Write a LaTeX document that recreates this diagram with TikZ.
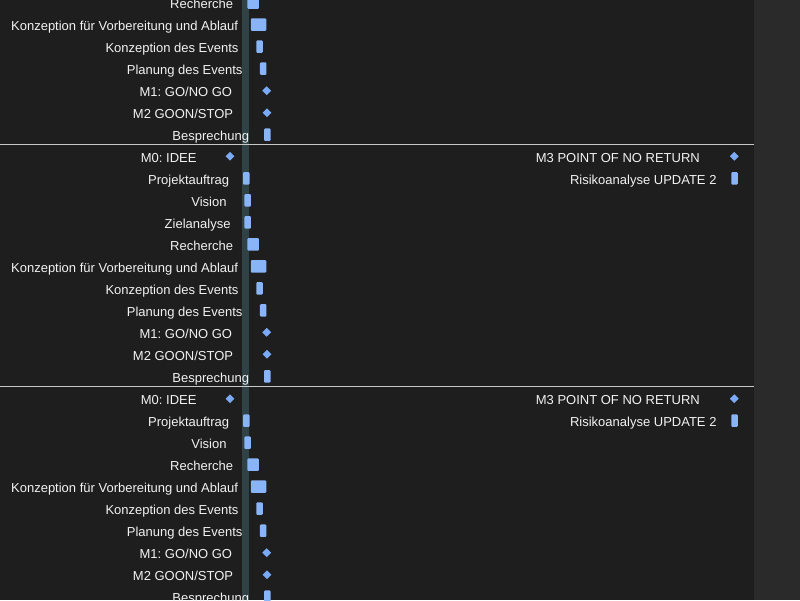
\documentclass[tikz,border=0pt]{standalone}
\usepackage{fontspec}
\setmainfont{Liberation Sans}
\usetikzlibrary{shapes.geometric}
\definecolor{bgdark}{HTML}{1E1E1E}
\definecolor{stripgray}{HTML}{2A2A2A}
\definecolor{todayslate}{HTML}{2F4346}
\definecolor{sepgray}{HTML}{C8C8C8}
\definecolor{labelwhite}{HTML}{F2F2F2}
\definecolor{barblue}{HTML}{8AB4F8}
\definecolor{mileblue}{HTML}{7AAAF5}
\frenchspacing
\begin{document}
\begin{tikzpicture}[x=1pt,y=-1pt]
        \tikzstyle{taskbar}=[rectangle, fill=barblue, rounded corners=1pt,
            minimum height=12.5pt, inner sep=0pt]
        \tikzstyle{milestone}=[diamond, fill=mileblue,
            minimum size=9pt, inner sep=0pt]
        \tikzstyle{tasklabel}=[anchor=base east, inner sep=0pt, text=labelwhite,
            font=\fontsize{13}{15}\selectfont]
        \tikzstyle{sepline}=[draw=sepgray, line width=1pt]

        \useasboundingbox (0,0) rectangle (800,600);
        \clip (0,0) rectangle (800,600);
        \fill[bgdark] (0,0) rectangle (800,600);
        \fill[stripgray] (754,0) rectangle (800,600);
        \fill[todayslate] (242.3,0) rectangle (249,600);
        \draw[sepline] (0,144.5) -- (754,144.5);
        \draw[sepline] (0,386) -- (754,386);

        % first block (cut at the top)
        \node[taskbar, minimum width=11.5pt] (rech1) at (253.2, 2.7) {};
        \node[taskbar, minimum width=15.5pt] (kvor1) at (258.5, 24.7) {};
        \node[taskbar, minimum width=6.5pt] (kev1) at (259.5, 46.7) {};
        \node[taskbar, minimum width=6.5pt] (plan1) at (263.2, 68.7) {};
        \node[milestone] (m11) at (266.7, 90.7) {};
        \node[milestone] (m21) at (267, 112.7) {};
        \node[taskbar, minimum width=6.5pt] (bes1) at (267.3, 134.7) {};

        \node[tasklabel] (rech1l) at (233.3, 8.4) {Recherche};
        \node[tasklabel] (kvor1l) at (238.3, 30.4) {Konzeption für Vorbereitung und Ablauf};
        \node[tasklabel] (kev1l) at (238.7, 52.4) {Konzeption des Events};
        \node[tasklabel] (plan1l) at (242.7, 74.4) {Planung des Events};
        \node[tasklabel] (m11l) at (232.3, 96.4) {M1: GO/NO GO};
        \node[tasklabel] (m21l) at (233.3, 118.4) {M2 GOON/STOP};
        \node[tasklabel] (bes1l) at (249.3, 140.4) {Besprechung};

        % second block
        \node[milestone] (m02) at (230, 156.3) {};
        \node[milestone] (m32) at (734.3, 156.3) {};
        \node[taskbar, minimum width=6.5pt] (proj2) at (246.3, 178.3) {};
        \node[taskbar, minimum width=6.5pt] (risk2) at (734.5, 178.3) {};
        \node[taskbar, minimum width=6.5pt] (vis2) at (247.7, 200.3) {};
        \node[taskbar, minimum width=6.5pt] (ziel2) at (247.7, 222.3) {};
        \node[taskbar, minimum width=11.5pt] (rech2) at (253.2, 244.3) {};
        \node[taskbar, minimum width=15.5pt] (kvor2) at (258.5, 266.3) {};
        \node[taskbar, minimum width=6.5pt] (kev2) at (259.5, 288.3) {};
        \node[taskbar, minimum width=6.5pt] (plan2) at (263.2, 310.3) {};
        \node[milestone] (m12) at (266.7, 332.3) {};
        \node[milestone] (m22) at (267, 354.3) {};
        \node[taskbar, minimum width=6.5pt] (bes2) at (267.3, 376.3) {};

        \node[tasklabel] (m02l) at (196.7, 162) {M0: IDEE};
        \node[tasklabel] (m32l) at (700, 162) {M3 POINT OF NO RETURN};
        \node[tasklabel] (proj2l) at (229.3, 184) {Projektauftrag};
        \node[tasklabel] (risk2l) at (716.7, 184) {Risikoanalyse UPDATE 2};
        \node[tasklabel] (vis2l) at (226.7, 206) {Vision};
        \node[tasklabel] (ziel2l) at (230.7, 228) {Zielanalyse};
        \node[tasklabel] (rech2l) at (233.3, 250) {Recherche};
        \node[tasklabel] (kvor2l) at (238.3, 272) {Konzeption für Vorbereitung und Ablauf};
        \node[tasklabel] (kev2l) at (238.7, 294) {Konzeption des Events};
        \node[tasklabel] (plan2l) at (242.7, 316) {Planung des Events};
        \node[tasklabel] (m12l) at (232.3, 338) {M1: GO/NO GO};
        \node[tasklabel] (m22l) at (233.3, 360) {M2 GOON/STOP};
        \node[tasklabel] (bes2l) at (249.3, 382) {Besprechung};

        % third block (cut at the bottom)
        \node[milestone] (m03) at (230, 398.7) {};
        \node[milestone] (m33) at (734.3, 398.7) {};
        \node[taskbar, minimum width=6.5pt] (proj3) at (246.3, 420.7) {};
        \node[taskbar, minimum width=6.5pt] (risk3) at (734.5, 420.7) {};
        \node[taskbar, minimum width=6.5pt] (vis3) at (247.7, 442.7) {};
        \node[taskbar, minimum width=11.5pt] (rech3) at (253.2, 464.7) {};
        \node[taskbar, minimum width=15.5pt] (kvor3) at (258.5, 486.7) {};
        \node[taskbar, minimum width=6.5pt] (kev3) at (259.5, 508.7) {};
        \node[taskbar, minimum width=6.5pt] (plan3) at (263.2, 530.7) {};
        \node[milestone] (m13) at (266.7, 552.7) {};
        \node[milestone] (m23) at (267, 574.7) {};
        \node[taskbar, minimum width=6.5pt] (bes3) at (267.3, 596.7) {};

        \node[tasklabel] (m03l) at (196.7, 404.4) {M0: IDEE};
        \node[tasklabel] (m33l) at (700, 404.4) {M3 POINT OF NO RETURN};
        \node[tasklabel] (proj3l) at (229.3, 426.4) {Projektauftrag};
        \node[tasklabel] (risk3l) at (716.7, 426.4) {Risikoanalyse UPDATE 2};
        \node[tasklabel] (vis3l) at (226.7, 448.4) {Vision};
        \node[tasklabel] (rech3l) at (233.3, 470.4) {Recherche};
        \node[tasklabel] (kvor3l) at (238.3, 492.4) {Konzeption für Vorbereitung und Ablauf};
        \node[tasklabel] (kev3l) at (238.7, 514.4) {Konzeption des Events};
        \node[tasklabel] (plan3l) at (242.7, 536.4) {Planung des Events};
        \node[tasklabel] (m13l) at (232.3, 558.4) {M1: GO/NO GO};
        \node[tasklabel] (m23l) at (233.3, 580.4) {M2 GOON/STOP};
        \node[tasklabel] (bes3l) at (249.3, 602.4) {Besprechung};

    \end{tikzpicture}
\end{document}
